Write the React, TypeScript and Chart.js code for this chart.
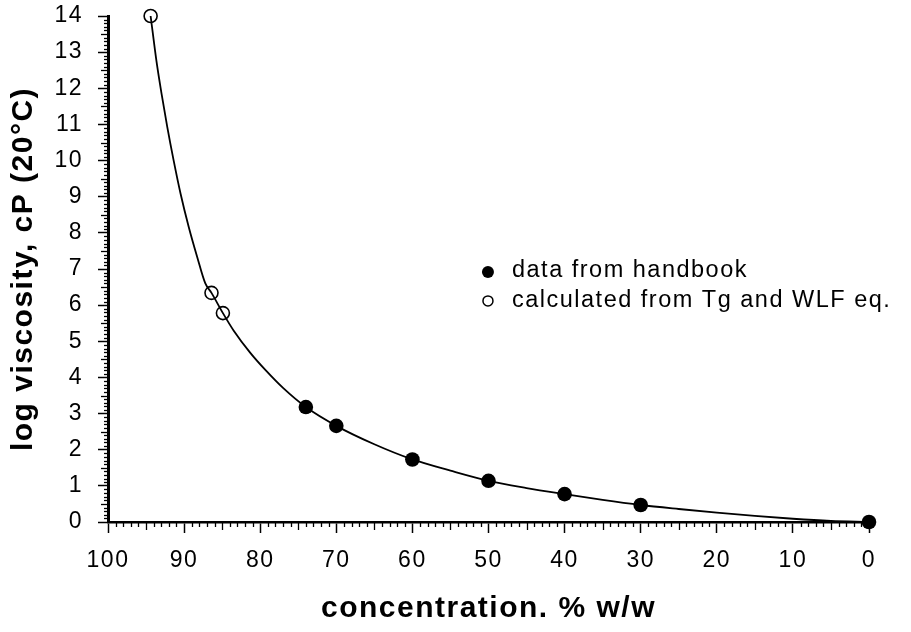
import React, { useEffect, useRef } from 'react';
import { Chart, registerables } from 'chart.js';

Chart.register(...registerables);

// ---- data ----
const handbookConc = [74, 70, 60, 50, 40, 30, 0];
const handbookLogVisc = [3.18, 2.66, 1.73, 1.14, 0.77, 0.47, 0.0];

const calcConc = [94.4, 86.4, 84.9];
const calcLogVisc = [14.0, 6.34, 5.78];

const curveConc = [94.4, 93.65, 92.97, 92.22, 91.39, 90.47, 89.4, 88.29, 87.21, 86.4, 84.9, 83.5, 81.3, 79.2, 77.0, 74, 70, 65, 60, 55, 50, 45, 40, 35, 30, 25, 20, 15, 10, 5, 0];
const curveLogVisc = [14.0, 12.78, 11.86, 10.94, 10.02, 9.09, 8.17, 7.34, 6.6, 6.34, 5.78, 5.3, 4.68, 4.18, 3.71, 3.18, 2.66, 2.15, 1.73, 1.42, 1.14, 0.94, 0.77, 0.61, 0.47, 0.36, 0.26, 0.17, 0.09, 0.03, 0.0];

const xTitle = 'concentration. % w/w';
const yTitle = 'log viscosity, cP (20°C)';
const handbookLabel = 'data from handbook';
const calcLabel = 'calculated from Tg and WLF eq.';

const FONT = "'Liberation Sans', Arial, Helvetica, sans-serif";

const toXY = (xs: number[], ys: number[]) => xs.map((x, i) => ({ x, y: ys[i] }));

const spacingPlugin = {
  id: 'spacing',
  beforeDraw(chart: any) {
    try { chart.ctx.letterSpacing = '1.5px'; } catch (e) {}
  },
};

const minorTicksPlugin = {
  id: 'minorTicks',
  afterDraw(chart: any) {
    const ctx = chart.ctx;
    const xs = chart.scales.x;
    const ys = chart.scales.y;
    const area = chart.chartArea;
    ctx.save();
    ctx.strokeStyle = '#000';
    ctx.lineWidth = 1.3;
    for (let i = 0; i <= 140; i++) {
      if (i % 10 === 0) continue;
      const v = i / 10;
      const py = Math.round(ys.getPixelForValue(v)) + 0.5;
      const len = i % 5 === 0 ? 7 : 4;
      ctx.beginPath();
      ctx.moveTo(area.left - len, py);
      ctx.lineTo(area.left, py);
      ctx.stroke();
    }
    for (let i = 0; i <= 100; i++) {
      if (i % 10 === 0) continue;
      const px = Math.round(xs.getPixelForValue(i)) + 0.5;
      const len = i % 5 === 0 ? 8 : 5;
      ctx.beginPath();
      ctx.moveTo(px, area.bottom);
      ctx.lineTo(px, area.bottom + len);
      ctx.stroke();
    }
    ctx.restore();
  },
};

const legendPlugin = {
  id: 'customLegend',
  afterDraw(chart: any) {
    const ctx = chart.ctx;
    const area = chart.chartArea;
    const x0 = area.left + (area.right - area.left) * 0.4993;
    const y1 = area.top + (area.bottom - area.top) * 0.506;
    const y2 = area.top + (area.bottom - area.top) * 0.563;
    ctx.save();
    try { ctx.letterSpacing = '1.5px'; } catch (e) {}
    ctx.fillStyle = '#000';
    ctx.strokeStyle = '#000';
    ctx.beginPath();
    ctx.arc(x0, y1, 6, 0, Math.PI * 2);
    ctx.fill();
    ctx.lineWidth = 1.5;
    ctx.beginPath();
    ctx.arc(x0, y2, 5, 0, Math.PI * 2);
    ctx.stroke();
    ctx.font = `23.5px ${FONT}`;
    ctx.textAlign = 'left';
    ctx.textBaseline = 'alphabetic';
    ctx.fillText(handbookLabel, x0 + 24, y1 + 5);
    ctx.fillText(calcLabel, x0 + 24, y2 + 6);
    ctx.restore();
  },
};

export default function App() {
  const canvasRef = useRef<HTMLCanvasElement | null>(null);

  useEffect(() => {
    if (!canvasRef.current) return;
    const chart = new Chart(canvasRef.current, {
      type: 'scatter',
      data: {
        datasets: [
          {
            label: 'curve',
            type: 'line',
            data: toXY(curveConc, curveLogVisc),
            borderColor: '#000',
            borderWidth: 1.8,
            pointRadius: 0,
            fill: false,
            cubicInterpolationMode: 'monotone',
            clip: false,
            order: 3,
          } as any,
          {
            label: handbookLabel,
            data: toXY(handbookConc, handbookLogVisc),
            pointRadius: 7.3,
            pointBackgroundColor: '#000',
            pointBorderColor: '#000',
            pointBorderWidth: 0,
            showLine: false,
            clip: false,
            order: 1,
          } as any,
          {
            label: calcLabel,
            data: toXY(calcConc, calcLogVisc),
            pointRadius: 6.5,
            pointBackgroundColor: 'rgba(255,255,255,0)',
            pointBorderColor: '#000',
            pointBorderWidth: 1.6,
            showLine: false,
            clip: false,
            order: 2,
          } as any,
        ],
      },
      options: {
        responsive: false,
        animation: false,
        devicePixelRatio: 1,
        layout: { padding: { left: 0, top: 16, right: 42, bottom: 0 } },
        plugins: {
          legend: { display: false },
          tooltip: { enabled: false },
        },
        scales: {
          x: {
            type: 'linear',
            reverse: true,
            min: 0,
            max: 100,
            afterFit: (scale: any) => {
              scale.height = 110;
              scale.paddingLeft = 0;
              scale.paddingRight = 0;
            },
            ticks: {
              stepSize: 10,
              color: '#000',
              padding: 14,
              font: { family: FONT, size: 23 },
              maxRotation: 0,
              autoSkip: false,
            },
            grid: {
              drawOnChartArea: false,
              drawTicks: true,
              tickLength: 11,
              tickWidth: 1.5,
              tickColor: '#000',
            },
            border: { display: true, color: '#000', width: 2.5 },
            title: {
              display: true,
              text: xTitle,
              color: '#000',
              font: { family: FONT, size: 30, weight: 'bold' },
              padding: { top: 0, bottom: 5 },
            },
          },
          y: {
            type: 'linear',
            min: 0,
            max: 14,
            afterFit: (scale: any) => {
              scale.width = 108;
              scale.paddingTop = 0;
              scale.paddingBottom = 0;
            },
            ticks: {
              stepSize: 1,
              color: '#000',
              padding: 15,
              font: { family: FONT, size: 23 },
              autoSkip: false,
            },
            grid: {
              drawOnChartArea: false,
              drawTicks: true,
              tickLength: 10,
              tickWidth: 1.5,
              tickColor: '#000',
            },
            border: { display: true, color: '#000', width: 3 },
            title: {
              display: true,
              text: yTitle,
              color: '#000',
              font: { family: FONT, size: 30, weight: 'bold' },
              padding: { top: 6, bottom: 0 },
            },
          },
        },
      } as any,
      plugins: [spacingPlugin, minorTicksPlugin, legendPlugin],
    });
    return () => chart.destroy();
  }, []);

  return (
    <div style={{ position: 'absolute', left: 0, top: 0, width: 911, height: 632, background: '#fff' }}>
      <canvas ref={canvasRef} width={911} height={632} style={{ display: 'block', width: 911, height: 632 }} />
    </div>
  );
}
